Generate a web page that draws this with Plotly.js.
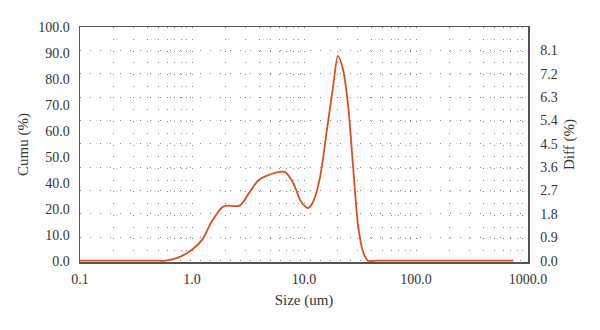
<!DOCTYPE html>
<html>
<head>
<meta charset="utf-8">
<script src="https://cdn.plot.ly/plotly-3.0.1.min.js"></script>
<style>html,body{margin:0;padding:0;background:#fff;}#chart{width:600px;height:330px;}</style>
</head>
<body>
<div id="chart"></div>
<script>
// Particle size (um) and differential volume (%)
const sizes = [0.1, 0.2, 0.35, 0.5, 0.587, 0.77, 1.0, 1.25, 1.49, 1.88, 2.09, 2.66, 3.27, 3.88, 4.61, 6.72, 7.97, 9.48, 10.9, 12.0, 13.8, 15.9, 18.2, 20.1, 22.3, 24.8, 27.4, 30.4, 33.7, 37.3, 45, 80, 200, 740];
const diff  = [0, 0, 0, 0, 0, 0.14, 0.42, 0.84, 1.49, 2.07, 2.12, 2.12, 2.64, 3.08, 3.27, 3.42, 3.01, 2.25, 2.03, 2.25, 3.14, 4.94, 6.72, 7.89, 7.36, 5.95, 3.65, 1.35, 0.34, 0, 0, 0, 0, 0];

// Tick labels
const xTickVals = [0.1, 1, 10, 100, 1000];
const xTickText = ['0.1', '1.0', '10.0', '100.0', '1000.0'];
const cumuTickText = ['0.0', '10.0', '20.0', '40.0', '50.0', '60.0', '70.0', '80.0', '90.0', '100.0'];
const diffTickText = ['0.0', '0.9', '1.8', '2.7', '3.6', '4.5', '5.4', '6.3', '7.2', '8.1'];

const cumuTickVals = cumuTickText.map((_, i) => i * 100 / (cumuTickText.length - 1));
const diffTickVals = diffTickText.map(t => parseFloat(t));

const minorVals = [];
[0.1, 1, 10, 100].forEach(d => { for (let k = 2; k <= 9; k++) minorVals.push(d * k); });

const fontFam = 'Liberation Serif';
const txt = '#333333';
const tickFont = { family: fontFam, size: 14, color: txt };
const titleFont = { family: fontFam, size: 15, color: txt };
const frame = '#555555';
const dotGrid = 'rgba(90,90,90,0.75)';

const traces = [
  { x: [], y: [], xaxis: 'x', yaxis: 'y', type: 'scatter', mode: 'lines', showlegend: false, hoverinfo: 'skip' },
  {
    x: sizes, y: diff, xaxis: 'x', yaxis: 'y2', type: 'scatter', mode: 'lines',
    line: { color: '#d9501f', width: 1.8, shape: 'spline', smoothing: 0.8 },
    showlegend: false
  }
];

const layout = {
  width: 600, height: 330,
  margin: { l: 80, r: 72, t: 27, b: 68 },
  paper_bgcolor: '#fff', plot_bgcolor: '#fff',
  font: { family: fontFam, size: 14, color: txt },
  xaxis: {
    type: 'log', range: [-1, 3],
    tickvals: xTickVals, ticktext: xTickText, tickfont: tickFont,
    showline: true, mirror: true, linecolor: frame, linewidth: 1.5,
    showgrid: true, gridcolor: dotGrid, gridwidth: 1, griddash: '1px,10.75px',
    minor: { tickvals: minorVals, showgrid: true, gridcolor: dotGrid, gridwidth: 1, griddash: '1px,10.75px', ticks: '' },
    ticks: '', ticklabelstandoff: 4, layer: 'below traces',
    zeroline: false,
    title: { text: 'Size (um)', font: titleFont, standoff: 8 }
  },
  yaxis: {
    range: [-0.556, 100],
    tickvals: cumuTickVals, ticktext: cumuTickText, tickfont: tickFont,
    showline: true, linecolor: frame, linewidth: 1.5,
    showgrid: false, zeroline: false, ticks: '', ticklabelstandoff: 6,
    title: { text: 'Cumu (%)', font: titleFont, standoff: 6 }
  },
  yaxis2: {
    range: [-0.05, 9], overlaying: 'y', side: 'right',
    tickvals: diffTickVals, ticktext: diffTickText, tickfont: tickFont,
    showline: true, linecolor: frame, linewidth: 1.5,
    showgrid: true, gridcolor: dotGrid, gridwidth: 1, griddash: '1px,9px',
    zeroline: false, ticks: '', ticklabelstandoff: 8,
    title: { text: 'Diff (%)', font: titleFont, standoff: 6 }
  }
};

Plotly.newPlot('chart', traces, layout, { staticPlot: true, displayModeBar: false });
</script>
</body>
</html>
